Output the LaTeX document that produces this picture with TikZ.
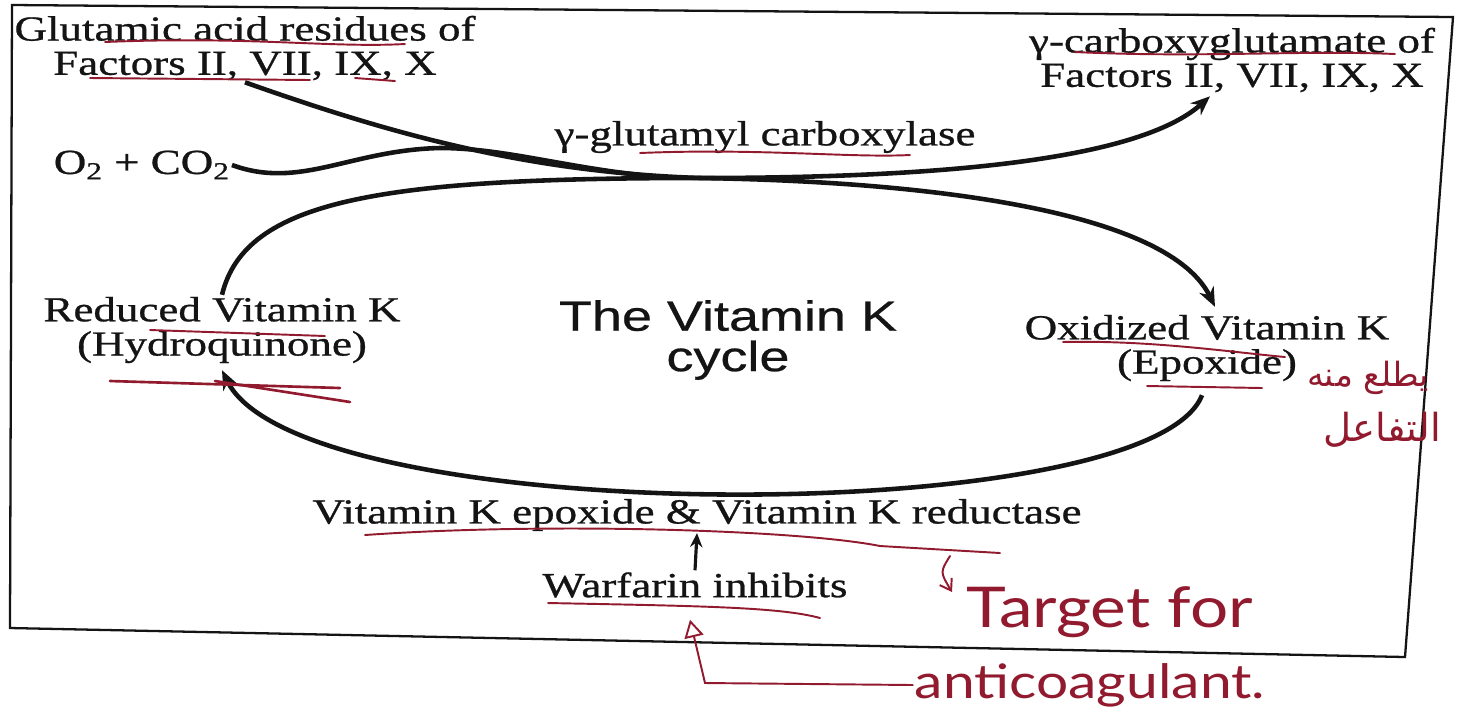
\documentclass[tikz,border=0pt]{standalone}
\usepackage{fontspec}
\setmainfont{Liberation Serif}[FakeStretch=1.28, FakeBold=0.8]
\newfontfamily\cyclefont{Liberation Sans}[FakeStretch=1.28, FakeBold=0.6]
\newfontfamily\handfont{Lato}[FakeStretch=1.2]
\newfontfamily\arabicfont[Script=Arabic]{DejaVu Sans}
\TeXXeTstate=1
\usepackage{xcolor}
\usetikzlibrary{arrows.meta, positioning, calc}
\definecolor{inkred}{HTML}{921A2E}
\definecolor{printblack}{HTML}{141414}

\begin{document}
\begin{tikzpicture}[x=0.02cm, y=-0.02cm,
  label/.style={font=\fontsize{20}{19.5}\selectfont, align=center, inner sep=1pt, text=printblack},
  strand/.style={line width=2.6pt, printblack},
  flow/.style={strand, -{Stealth[length=11pt, width=9pt]}},
  pen/.style={inkred, line width=1.1pt, line cap=round},
  hand/.style={font=\handfont\fontsize{32}{36}\selectfont, text=inkred, inner sep=1pt}]
\useasboundingbox (0,0) rectangle (1463,725);
\fill[white] (0,0) rectangle (1463,725);

% frame
\draw[printblack, line width=1.3pt] (12,5) -- (1453,17) -- (1405,657) -- (10,628) -- cycle;

% printed labels
\node[label] (glu) at (245,48) {Glutamic acid residues of\\Factors II, VII, IX, X};
\node[label] (carb) at (1232,60) {γ-carboxyglutamate of\\Factors II, VII, IX, X};
\node[label, anchor=east] (o2) at (232,165) {O\textsubscript{2} + CO\textsubscript{2}};
\node[label] (enz) at (765,137) {γ-glutamyl carboxylase};
\node[label] (red) at (222,330) {Reduced Vitamin K\\(Hydroquinone)};
\node[label] (oxi) at (1207,348) {Oxidized Vitamin K\\(Epoxide)};
\node[font=\cyclefont\fontsize{24}{23}\selectfont, align=center, text=printblack] (cyc) at (728,340) {The Vitamin K\\cycle};
\node[label] (rdx) at (697,515) {Vitamin K epoxide \& Vitamin K reductase};
\node[label] (warf) at (695,585) {Warfarin inhibits};

% carboxylation strands
\coordinate (mix) at (700,178);
\draw[flow] (glu.south) .. controls (380,130) and (520,172) .. (mix)
  .. controls (950,182) and (1170,215) .. ($(oxi.north)+(8,-6)$);
\draw[flow] (red.north) .. controls (245,200) and (380,178) .. (mix)
  .. controls (1000,178) and (1150,150) .. ($(carb.south)+(-22,2)$);
\draw[strand] (o2.east) .. controls (300,190) and (350,150) .. (440,148)
  .. controls (500,148) and (560,166) .. (640,175);

% reductase arc
\draw[flow] ($(oxi.south)+(-5,12)$) .. controls (1150,530) and (300,530) .. ($(red.south)+(0,5)$);
\draw[line width=1.8pt, printblack, -{Stealth[length=8pt, width=7pt]}] (warf.north) -- (rdx.south);

% handwritten notes
\draw[pen] (105,42) .. controls (250,36) and (330,48) .. (405,44);
\draw[pen] (90,78) -- (310,80);
\draw[pen] (355,78) -- (395,81);
\draw[pen] (1075,52) .. controls (1200,58) and (1300,50) .. (1395,54);
\draw[pen] (640,153) .. controls (760,148) and (850,158) .. (910,155);
\draw[pen] (150,330) -- (325,336);
\draw[pen, line width=1.5pt] (110,381) -- (340,388);
\draw[pen, line width=1.5pt] (215,381) -- (350,402);
\draw[pen] (1063,342) .. controls (1150,340) and (1230,352) .. (1285,357);
\draw[pen] (1147,386) -- (1262,388);
\draw[pen] (365,535) .. controls (550,522) and (800,530) .. (880,546) -- (1000,553);
\draw[pen] (548,603) .. controls (700,606) and (780,607) .. (820,618);
\draw[pen, -{Straight Barb[length=6pt, width=8pt]}] (950,556) .. controls (940,572) .. (952,592);

\node[hand] (target) at (1110,612) {Target for};
\node[hand, font=\handfont\fontsize{27}{30}\selectfont] (anti) at (1090,685) {anticoagulant.};
\draw[pen, -{Triangle[open, length=10pt, width=11pt]}] (anti.west) -- (705,683) -- ($(warf.south)+(-5,20)$);

\node[font=\arabicfont\fontsize{19}{22}\selectfont, text=inkred] (arab1) at (1368,378) {\beginR يطلع منه\endR};
\node[font=\arabicfont\fontsize{22}{24}\selectfont, text=inkred] (arab2) at (1382,430) {\beginR التفاعل\endR};
\end{tikzpicture}
\end{document}
